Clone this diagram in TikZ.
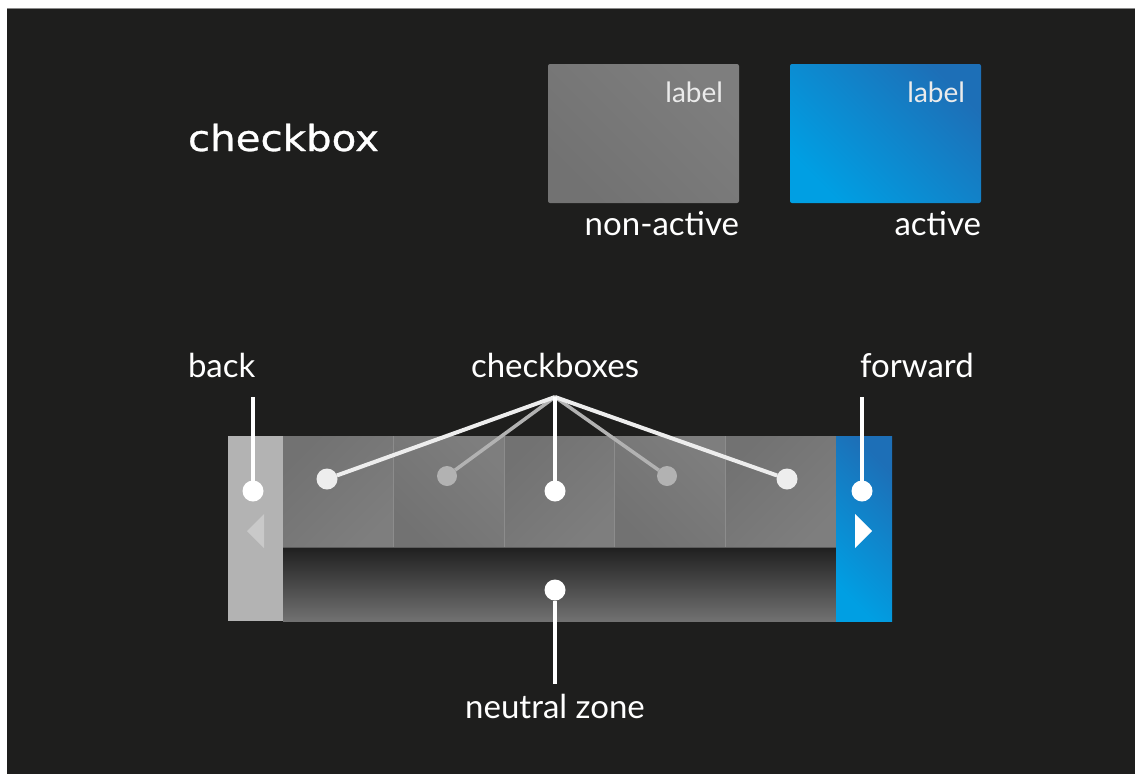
\documentclass[tikz,border=0pt]{standalone}
\usepackage{fontspec}
\setmainfont{Lato}
\newfontfamily\titlefont[FakeStretch=1.12,FakeBold=0.8]{DejaVu Sans}
\usetikzlibrary{positioning,calc}

\definecolor{bgdark}{HTML}{1E1E1D}
\definecolor{edgegrey}{HTML}{8A8A8A}
\definecolor{boxgreyA}{HTML}{727272}
\definecolor{boxgreyB}{HTML}{7E7E7E}
\definecolor{blueA}{HTML}{009FE3}
\definecolor{blueB}{HTML}{1D6FB7}
\definecolor{backgrey}{HTML}{B3B3B3}
\definecolor{arrowgrey}{HTML}{C9C9C9}
\definecolor{dotgrey}{HTML}{B2B2B2}
\definecolor{softwhite}{HTML}{EDEDED}
\definecolor{sepgrey}{HTML}{8C8C8C}
\definecolor{zonetop}{HTML}{1F1F1F}
\definecolor{zonebottom}{HTML}{717171}

\begin{document}
\begin{tikzpicture}[x=1pt,y=-1pt,
    every node/.style={text=white,inner sep=0pt,outer sep=0pt},
    lbl/.style={font=\fontsize{33}{40}\selectfont},
    tag/.style={font=\fontsize{28}{32}\selectfont,text=white!92!black},
    titlelbl/.style={font=\titlefont\fontsize{36}{40}\selectfont},
    statebox/.style={rounded corners=2pt,minimum width=191pt,minimum height=139pt,anchor=north west},
    panel/.style={minimum height=185pt,anchor=north west},
    cellbox/.style={minimum width=110.6pt,minimum height=111pt,anchor=north west,left color=boxgreyA,right color=boxgreyB},
    dot/.style={circle,fill=white,minimum size=21pt},
    greydot/.style={dot,fill=dotgrey,minimum size=20pt},
    lead/.style={line width=4pt,white},
    greylead/.style={line width=3.5pt,dotgrey}]

  % background
  \useasboundingbox (0,0) rectangle (1135,774);
  \fill[white] (0,0) rectangle (1135,774);
  \fill[bgdark] (7,8) rectangle (1135,774);
  \draw[edgegrey,line width=1pt] (7,8.5) -- (1135,8.5);

  % title and the two states
  \node[titlelbl,anchor=base west] (title) at (188,151) {checkbox};
  \node[statebox,left color=boxgreyA,right color=boxgreyB,shading angle=135] (off) at (548,64) {};
  \node[statebox,left color=blueA,right color=blueB,shading angle=135] (on) at (790,64) {};
  \node[tag,anchor=base east] (offtag) at ($(off.north east)+(-16,38)$) {label};
  \node[tag,anchor=base east] (ontag) at ($(on.north east)+(-16,38)$) {label};
  \node[lbl,anchor=base east] (offname) at ($(off.south east)+(0,32)$) {non-active};
  \node[lbl,anchor=base east] (onname) at ($(on.south east)+(0,32)$) {active};

  % widget
  \node[panel,minimum width=55pt,fill=backgrey] (back) at (228,436) {};
  \foreach \i/\sa in {1/45,2/135,3/45,4/135,5/45}
    \node[cellbox,shading angle=\sa] (cell\i) at (283+110.6*\i-110.6,436) {};
  \foreach \i in {1,...,4}
    \draw[sepgrey,line width=1pt] (cell\i.north east) -- (cell\i.south east);
  \node[anchor=north west,minimum width=553pt,minimum height=74pt,top color=zonetop,bottom color=zonebottom] (zone) at (283,547) {};
  \draw[boxgreyA!80!black,line width=1pt] (zone.north west) -- (zone.north east);
  \node[panel,minimum width=56pt,left color=blueA,right color=blueB,shading angle=135] (fwd) at (836,436) {};
  \fill[arrowgrey] (264,514) -- (247,531) -- (264,548) -- cycle;
  \fill[white] (855,514) -- (872,531) -- (855,548) -- cycle;

  % callouts
  \node[lbl,anchor=base west] (backlbl) at (188,377) {back};
  \node[lbl,anchor=base] (boxeslbl) at (555,377) {checkboxes};
  \node[lbl,anchor=base west] (fwdlbl) at (860,377) {forward};
  \node[lbl,anchor=base] (zonelbl) at (555,718) {neutral zone};
  \coordinate (backtop) at (253,397);
  \coordinate (hub) at (555,397);
  \coordinate (fwdtop) at (862,397);
  \coordinate (zonebot) at (555,684);

  \node[dot] (pback) at (253,491) {};
  \node[dot,fill=softwhite] (p1) at (327,479) {};
  \node[greydot] (p2) at (447,476) {};
  \node[dot] (p3) at (555,491) {};
  \node[greydot] (p4) at (667,476) {};
  \node[dot,fill=softwhite] (p5) at (787,479) {};
  \node[dot] (pfwd) at (862,491) {};
  \node[dot] (pzone) at (555,590) {};

  \draw[lead] (backtop) -- (pback);
  \draw[lead] (fwdtop) -- (pfwd);
  \draw[lead] (pzone) -- (zonebot);
  \draw[greylead] (hub) -- (p2);
  \draw[greylead] (hub) -- (p4);
  \draw[lead,softwhite] (hub) -- (p1);
  \draw[lead,softwhite] (hub) -- (p5);
  \draw[lead] (hub) -- (p3);
\end{tikzpicture}
\end{document}
